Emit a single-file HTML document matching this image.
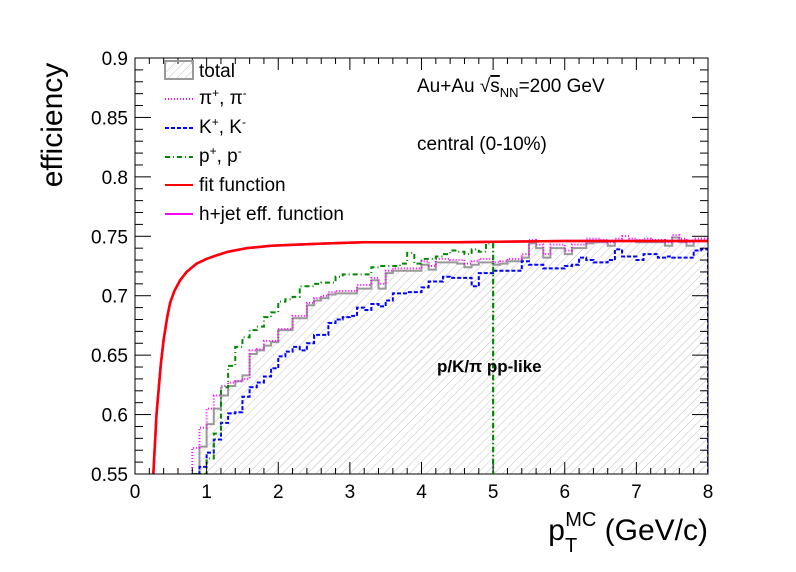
<!DOCTYPE html>
<html><head><meta charset="utf-8"><style>
body{margin:0;background:#fff;}
svg{display:block;font-family:"Liberation Sans",Arial,sans-serif;}
</style></head><body>
<svg id="chart" width="796" height="572" viewBox="0 0 796 572">
<defs>
<pattern id="hatch" patternUnits="userSpaceOnUse" width="6" height="6" patternTransform="rotate(45)">
<line x1="0" y1="0" x2="0" y2="6" stroke="#b0b0b0" stroke-width="0.8"/>
</pattern>
<clipPath id="frame"><rect x="135" y="58" width="573" height="416"/></clipPath>
</defs>
<g id="plot" clip-path="url(#frame)"></g>
<g id="axes"></g>
<text x="62" y="125" font-size="30" text-anchor="middle" transform="rotate(-90 62 125)">efficiency</text>
<text x="708" y="540" font-size="30" text-anchor="end">p<tspan font-size="20" dy="12">T</tspan><tspan font-size="20" dx="-12" dy="-26">MC</tspan><tspan dy="14"> (GeV/c)</tspan></text>
<g>
<rect x="165" y="61" width="28" height="18" fill="url(#hatch)" stroke="#999" stroke-width="2"/>
<text x="199" y="77" font-size="19">total</text>
<line x1="165" y1="99" x2="193" y2="99" stroke="#f0f" stroke-width="2" stroke-dasharray="1,2"/>
<text x="199" y="104" font-size="19">π<tspan font-size="12" dy="-7">+</tspan><tspan dy="7">, π</tspan><tspan font-size="12" dy="-7">-</tspan></text>
<line x1="165" y1="128" x2="193" y2="128" stroke="#00f" stroke-width="2" stroke-dasharray="4,2"/>
<text x="199" y="133" font-size="19">K<tspan font-size="12" dy="-7">+</tspan><tspan dy="7">, K</tspan><tspan font-size="12" dy="-7">-</tspan></text>
<line x1="165" y1="157" x2="193" y2="157" stroke="#080" stroke-width="2" stroke-dasharray="5,3,1,3"/>
<text x="199" y="162" font-size="19">p<tspan font-size="12" dy="-7">+</tspan><tspan dy="7">, p</tspan><tspan font-size="12" dy="-7">-</tspan></text>
<line x1="165" y1="185" x2="193" y2="185" stroke="#f00" stroke-width="2"/>
<text x="199" y="191" font-size="19">fit function</text>
<line x1="165" y1="214" x2="193" y2="214" stroke="#f0f" stroke-width="2"/>
<text x="199" y="220" font-size="19">h+jet eff. function</text>
</g>
<text x="417" y="92" font-size="19">Au+Au <tspan>√</tspan><tspan text-decoration="overline">s</tspan><tspan font-size="13" dy="5">NN</tspan><tspan dy="-5">=200 GeV</tspan></text>
<text x="417" y="150" font-size="19">central (0-10%)</text>
<text x="437" y="372" font-size="17" font-weight="bold">p/K/π pp-like</text>
</svg>
<script>
const binStart = 0.8, binW = 0.1;
const total = [0.55,0.573,0.592,0.605,0.616,0.624,0.628,0.633,0.651,0.654,0.658,0.661,0.671,0.671,0.681,0.681,0.692,0.696,0.698,0.701,0.702,0.702,0.702,0.706,0.706,0.713,0.706,0.719,0.721,0.721,0.721,0.721,0.726,0.722,0.728,0.728,0.728,0.727,0.724,0.726,0.728,0.728,0.726,0.727,0.729,0.729,0.732,0.744,0.740,0.732,0.740,0.740,0.735,0.740,0.740,0.744,0.745,0.745,0.742,0.746,0.746,0.746,0.745,0.745,0.745,0.745,0.742,0.749,0.745,0.742,0.746,0.746];
const pion = [0.572,0.589,0.605,0.616,0.624,0.627,0.628,0.630,0.654,0.655,0.662,0.662,0.672,0.672,0.683,0.683,0.694,0.698,0.700,0.703,0.704,0.704,0.704,0.709,0.709,0.715,0.710,0.721,0.723,0.723,0.723,0.723,0.729,0.725,0.731,0.731,0.730,0.730,0.727,0.729,0.731,0.731,0.728,0.729,0.731,0.731,0.735,0.747,0.743,0.735,0.743,0.743,0.738,0.743,0.743,0.748,0.748,0.747,0.745,0.748,0.750,0.748,0.747,0.748,0.747,0.747,0.745,0.751,0.748,0.745,0.748,0.748];
const kaon = [0.55,0.556,0.568,0.579,0.593,0.601,0.602,0.615,0.623,0.627,0.632,0.639,0.649,0.653,0.657,0.654,0.660,0.667,0.667,0.677,0.680,0.682,0.683,0.690,0.688,0.693,0.691,0.696,0.702,0.702,0.703,0.703,0.707,0.712,0.712,0.716,0.715,0.715,0.715,0.708,0.719,0.719,0.721,0.721,0.721,0.721,0.729,0.726,0.726,0.723,0.723,0.723,0.725,0.726,0.732,0.730,0.728,0.728,0.730,0.739,0.733,0.733,0.730,0.735,0.735,0.732,0.733,0.732,0.732,0.732,0.738,0.739];
const proton = [0.55,0.55,0.563,0.584,0.623,0.641,0.657,0.665,0.671,0.674,0.682,0.686,0.695,0.697,0.699,0.708,0.708,0.710,0.711,0.711,0.716,0.718,0.718,0.718,0.718,0.724,0.725,0.725,0.725,0.727,0.736,0.727,0.731,0.731,0.733,0.735,0.738,0.737,0.735,0.739,0.737,0.744];
const fitX = [0.22,0.256,0.28,0.30,0.33,0.36,0.40,0.45,0.49,0.55,0.63,0.72,0.86,1.0,1.14,1.3,1.56,1.9,2.26,2.7,3.19,4.5,6,8];
const fitY = [0.53,0.55,0.577,0.600,0.621,0.642,0.663,0.682,0.694,0.704,0.713,0.720,0.727,0.731,0.734,0.737,0.740,0.742,0.743,0.744,0.745,0.745,0.746,0.746];
const xTicks = [0,1,2,3,4,5,6,7,8];
const yTicks = [0.55,0.6,0.65,0.7,0.75,0.8,0.85,0.9];
const yTickLabels = ["0.55","0.6","0.65","0.7","0.75","0.8","0.85","0.9"];

const X0=135,X1=708,Y0=474,Y1=58,xmin=0,xmax=8,ymin=0.55,ymax=0.9;
const sx = v => X0+(v-xmin)/(xmax-xmin)*(X1-X0);
const sy = v => Y0-(v-ymin)/(ymax-ymin)*(Y0-Y1);
const NS="http://www.w3.org/2000/svg";
const plot=document.getElementById('plot'), axes=document.getElementById('axes');
function mk(tag,attrs,parent){const e=document.createElementNS(NS,tag);for(const k in attrs)e.setAttribute(k,attrs[k]);parent.appendChild(e);return e;}
function stepPath(vals){let d=`M${sx(binStart)},${sy(ymin)}`;vals.forEach((v,i)=>{const a=binStart+i*binW;d+=` L${sx(a)},${sy(v)} L${sx(a+binW)},${sy(v)}`;});return d;}

const fillPath = stepPath(total)+` L${sx(binStart+total.length*binW)},${sy(ymin)} Z`;
const tf=mk('path',{d:fillPath,fill:'url(#hatch)',stroke:'none'},plot);


const tl=mk('path',{d:stepPath(total),fill:'none',stroke:'#999','stroke-width':2},plot);


const pl=mk('path',{d:stepPath(pion),fill:'none',stroke:'#f0f','stroke-width':2,'stroke-dasharray':'1,2'},plot);


const kl=mk('path',{d:stepPath(kaon)+` L${sx(8)},${sy(ymin)}`,fill:'none',stroke:'#00f','stroke-width':2,'stroke-dasharray':'4,2'},plot);


const prl=mk('path',{d:stepPath(proton)+` L${sx(binStart+proton.length*binW)},${sy(ymin)}`,fill:'none',stroke:'#080','stroke-width':2,'stroke-dasharray':'5,3,1,3'},plot);


let fd='';fitX.forEach((x,i)=>{fd+=(i?' L':'M')+sx(x)+','+sy(fitY[i]);});
const hj=mk('path',{d:fd,fill:'none',stroke:'#f0f','stroke-width':2.5},plot);


const ff=mk('path',{d:fd,fill:'none',stroke:'#f00','stroke-width':2.5,'stroke-linejoin':'round'},plot);



const fr=mk('rect',{x:X0,y:Y1,width:X1-X0,height:Y0-Y1,fill:'none',stroke:'#000','stroke-width':1},axes);


for(let v=0;v<=8.001;v+=0.2){const major=Math.abs(v-Math.round(v))<1e-6;const L=major?12:6;
mk('line',{x1:sx(v),x2:sx(v),y1:Y0,y2:Y0-L,stroke:'#000'},axes);
mk('line',{x1:sx(v),x2:sx(v),y1:Y1,y2:Y1+L,stroke:'#000'},axes);}
xTicks.forEach(v=>{const t=mk('text',{x:sx(v),y:Y0+24,'font-size':19,'text-anchor':'middle'},axes);t.textContent=v;

});
for(let k=0;k<=35;k++){const v=0.55+k*0.01;const major=k%5===0;const L=major?16:8;
mk('line',{x1:X0,x2:X0+L,y1:sy(v),y2:sy(v),stroke:'#000'},axes);
mk('line',{x1:X1,x2:X1-L,y1:sy(v),y2:sy(v),stroke:'#000'},axes);}
yTicks.forEach((v,i)=>{const t=mk('text',{x:X0-7,y:sy(v)+7,'font-size':19,'text-anchor':'end'},axes);t.textContent=yTickLabels[i];

});
const vl=mk('line',{x1:sx(5),x2:sx(5),y1:sy(proton[proton.length-1]),y2:Y0,stroke:'#080','stroke-width':2,'stroke-dasharray':'5,3,1,3'},axes);


</script>
</body></html>
